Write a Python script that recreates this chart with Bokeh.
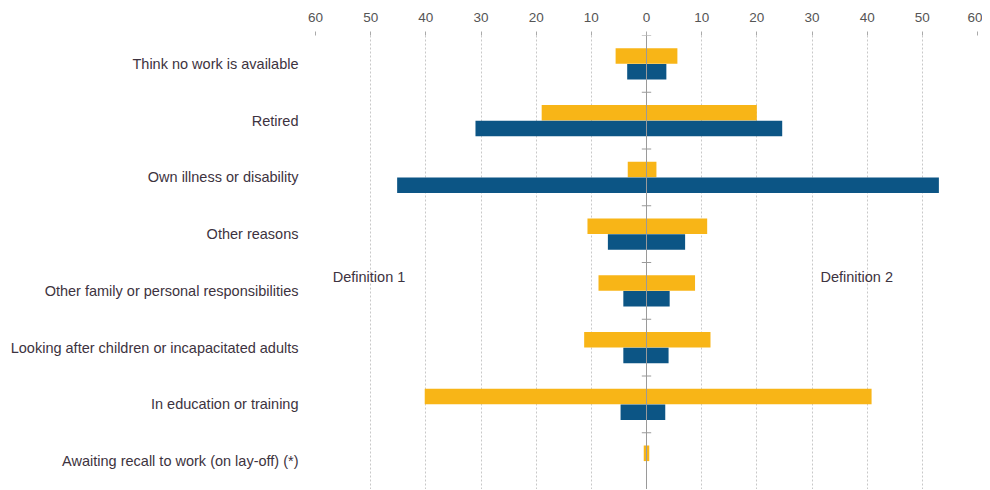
from bokeh.plotting import figure
from bokeh.models import (ColumnDataSource, Range1d, LinearAxis, FixedTicker,
                          Span, Label)
from bokeh.embed import file_html
from bokeh.resources import INLINE

categories = [
    "Think no work is available",
    "Retired",
    "Own illness or disability",
    "Other reasons",
    "Other family or personal responsibilities",
    "Looking after children or incapacitated adults",
    "In education or training",
    "Awaiting recall to work (on lay-off) (*)",
]
# Yellow series: Definition 1 (left) and Definition 2 (right)
yellow_def1 = [5.6, 19.0, 3.4, 10.7, 8.7, 11.3, 40.2, 0.5]
yellow_def2 = [5.6, 20.0, 1.8, 11.0, 8.8, 11.6, 40.8, 0.5]
# Blue series: Definition 1 (left) and Definition 2 (right)
blue_def1 = [3.5, 31.0, 45.2, 7.0, 4.2, 4.2, 4.7, 0.0]
blue_def2 = [3.6, 24.6, 53.0, 7.0, 4.2, 4.0, 3.4, 0.0]
x_ticks = [-60, -50, -40, -30, -20, -10, 0, 10, 20, 30, 40, 50, 60]

YELLOW = "#F8B517"
BLUE = "#0C5585"
FONT = "Liberation Sans"

n = len(categories)
idx = list(range(n))
bar_h = 0.275
off = 0.138

src_y = ColumnDataSource(dict(
    y=[i - off for i in idx],
    left=[-v for v in yellow_def1],
    right=yellow_def2,
))
src_b = ColumnDataSource(dict(
    y=[i + off for i in idx],
    left=[-v for v in blue_def1],
    right=blue_def2,
))

p = figure(width=982, height=489, output_backend="svg", toolbar_location=None,
           x_range=Range1d(-60, 60), y_range=Range1d(n - 0.5, -0.5),
           x_axis_location=None, y_axis_location=None,
           min_border_left=315, min_border_right=5,
           min_border_top=35, min_border_bottom=0)
p.outline_line_color = None
p.background_fill_color = "white"
p.border_fill_color = "white"

# grid
p.xgrid.ticker = FixedTicker(ticks=x_ticks)
p.xgrid.grid_line_color = "#c8c8c8"
p.xgrid.grid_line_dash = "2 2"
p.ygrid.grid_line_color = None

p.hbar(y="y", left="left", right="right", height=bar_h, source=src_y,
       fill_color=YELLOW, line_color=None)
p.hbar(y="y", left="left", right="right", height=bar_h, source=src_b,
       fill_color=BLUE, line_color=None)

# central axis line with boundary ticks
p.add_layout(Span(location=0, dimension="height", line_color="#9a9a9a",
                  line_width=1))
bounds = [i - 0.5 for i in range(n + 1)]
p.segment(x0=[-0.85] * len(bounds), x1=[0.85] * len(bounds), y0=bounds,
          y1=bounds, line_color="#9a9a9a", line_width=1)

# top axis
top = LinearAxis(ticker=FixedTicker(ticks=x_ticks),
                 major_label_overrides={t: str(abs(t)) for t in x_ticks})
top.axis_line_color = None
top.major_tick_line_color = "#aaaaaa"
top.major_tick_out = 4
top.major_tick_in = 0
top.minor_tick_line_color = None
top.major_label_standoff = 10
top.major_label_text_font = FONT
top.major_label_text_font_size = "13.5px"
top.major_label_text_color = "#555555"
p.add_layout(top, "above")

# left category axis
left = LinearAxis(ticker=FixedTicker(ticks=idx),
                  major_label_overrides={i: c for i, c in enumerate(categories)})
left.axis_line_color = None
left.major_tick_line_color = None
left.minor_tick_line_color = None
left.major_label_standoff = 11
left.major_label_text_font = FONT
left.major_label_text_font_size = "14.5px"
left.major_label_text_color = "#3d3340"
p.add_layout(left, "left")

p.add_layout(Label(x=-50.3, y=3.75, text="Definition 1", text_align="center",
                   text_baseline="middle", text_font=FONT,
                   text_font_size="14.5px", text_color="#3d3340"))
p.add_layout(Label(x=38.1, y=3.75, text="Definition 2", text_align="center",
                   text_baseline="middle", text_font=FONT,
                   text_font_size="14.5px", text_color="#3d3340"))

open("out.html", "w").write(file_html(p, INLINE))
